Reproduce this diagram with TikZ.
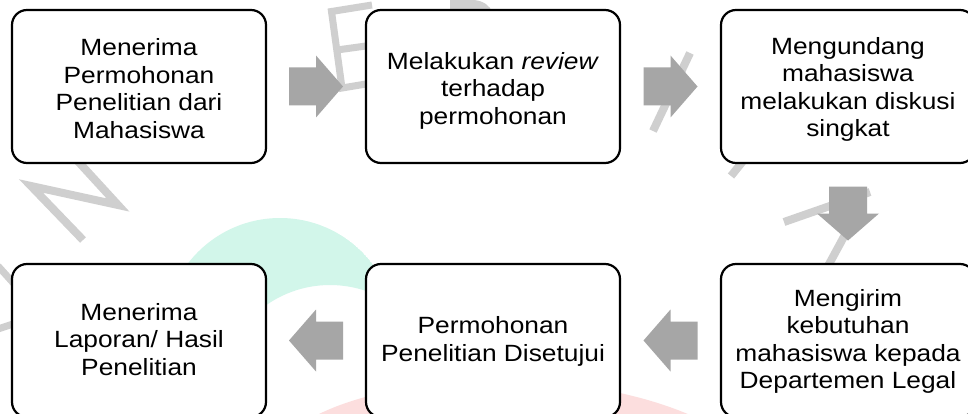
\documentclass[tikz,border=0pt]{standalone}
\usepackage{fontspec}
\setmainfont{Liberation Sans}[FakeStretch=1.12]
\usetikzlibrary{calc}
\definecolor{arrowgray}{HTML}{A6A6A6}
\definecolor{markgray}{HTML}{CFCFCF}
\definecolor{mint}{HTML}{D2F6EA}
\definecolor{blush}{HTML}{FCDEDE}
\tikzset{
  flowarrow/.pic={\fill[arrowgray] (-27,-19) -- (0,-19) -- (0,-31) -- (27,0) -- (0,31) -- (0,19) -- (-27,19) -- cycle;}
}
\begin{document}
\begin{tikzpicture}[x=1pt,y=-1pt,
  stepbox/.style={draw=black, line width=2.2pt, fill=white, rounded corners=15pt,
    minimum width=254pt, minimum height=153pt, inner sep=0pt},
  steptext/.style={align=center, inner sep=0pt, font=\fontsize{23.5}{27.5}\selectfont},
  wmstroke/.style={draw=markgray, line width=8pt, line join=miter}
]
\clip (0,0) rectangle (968,414);
\fill[white] (0,0) rectangle (968,414);

% background logo: mint crescent and blush swoosh
\begin{scope}
  \clip (280,334) circle[radius=116pt];
  \fill[mint, even odd rule] (280,334) circle[radius=116pt] (330,396) circle[radius=111pt];
\end{scope}
\fill[blush] (300,425) .. controls (380,370) and (600,360) .. (720,430) -- cycle;

% background logo: letter strokes
\draw[wmstroke] (83,240) -- (31,186) -- (118,205) -- (74,157);
\draw[wmstroke, line width=7pt] (372,5) -- (331.5,11.5) -- (342,88) -- (366,84);
\draw[wmstroke, line width=7pt] (337,50) -- (366,46);
\fill[markgray] (450,0) -- (474,0) .. controls (484,1) and (490,6) .. (492,12) -- (450,12) -- cycle;
\draw[wmstroke, line width=7pt] (-2,266) -- (16,286);
\draw[wmstroke, line width=7pt] (-2,329) -- (16,323);
\draw[wmstroke] (690,53) -- (653,131);
\draw[wmstroke] (752,150) -- (731,176);
\draw[wmstroke] (784,222) -- (870,192);
\draw[wmstroke] (828,266) -- (853,220);

% process steps
\node[stepbox] (b1) at (139,86.5) {};
\node[stepbox] (b2) at (493,86.5) {};
\node[stepbox] (b3) at (848,86.5) {};
\node[stepbox] (b4) at (139,340.5) {};
\node[stepbox] (b5) at (493,340.5) {};
\node[stepbox] (b6) at (848,340.5) {};

\node[steptext] (t1) at ($(b1.center)+(0,2)$) {Menerima\\Permohonan\\Penelitian dari\\Mahasiswa};
\node[steptext] (t2) at ($(b2.center)+(0,4)$) {Melakukan \textit{review}\\terhadap\\permohonan};
\node[steptext] (t3) at ($(b3.center)+(0,3)$) {Mengundang\\mahasiswa\\melakukan diskusi\\singkat};
\node[steptext] (t4) at ($(b4.center)+(0,-1)$) {Menerima\\Laporan/ Hasil\\Penelitian};
\node[steptext] (t5) at ($(b5.center)+(0,1)$) {Permohonan\\Penelitian Disetujui};
\node[steptext] (t6) at ($(b6.center)+(0,1)$) {Mengirim\\kebutuhan\\mahasiswa kepada\\Departemen Legal};

% block arrows between the steps
\coordinate (a1) at ($(b1.east)!0.5!(b2.west)$);
\coordinate (a2) at ($(b2.east)!0.5!(b3.west)$);
\coordinate (a3) at ($(b3.south)!0.5!(b6.north)$);
\coordinate (a4) at ($(b6.west)!0.5!(b5.east)$);
\coordinate (a5) at ($(b5.west)!0.5!(b4.east)$);
\pic at (a1) {flowarrow};
\pic at (a2) {flowarrow};
\pic[rotate=-90] at (a3) {flowarrow};
\pic[rotate=180] at (a4) {flowarrow};
\pic[rotate=180] at (a5) {flowarrow};
\end{tikzpicture}
\end{document}
